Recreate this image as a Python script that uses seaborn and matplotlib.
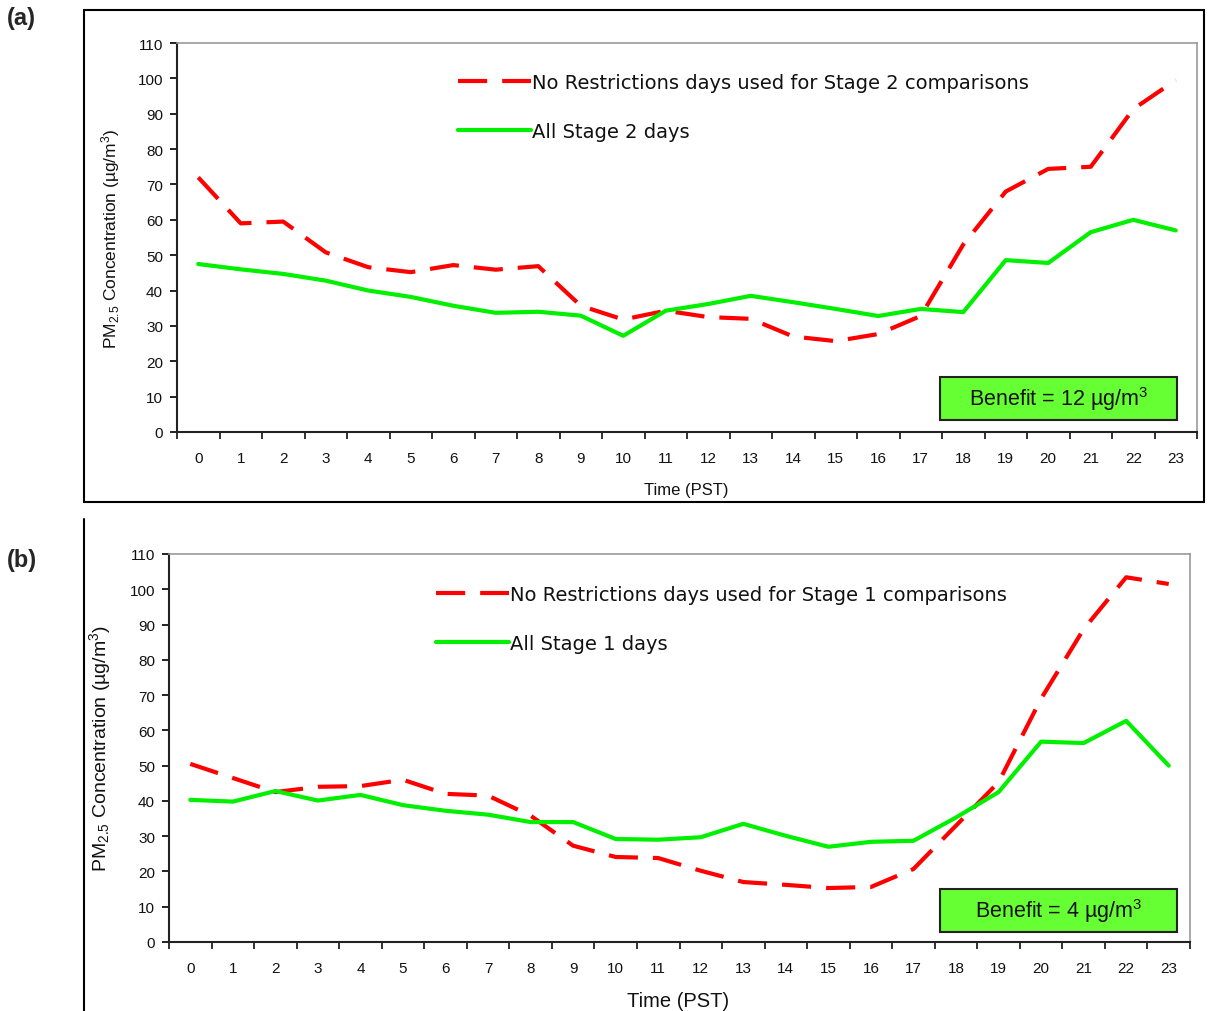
import matplotlib
matplotlib.use("Agg")
import matplotlib.pyplot as plt
from matplotlib.patches import Rectangle
from matplotlib.lines import Line2D
from matplotlib.ticker import FixedLocator, NullFormatter
import seaborn as sns
import pandas as pd

# ---------------- data ----------------
hours = list(range(24))
hour_labels = [str(h) for h in hours]

a_norestr = [72, 59, 59.5, 50.8, 46.6, 45.2, 47.2, 45.9, 46.9, 35.7, 31.8, 34.3,
             32.5, 32, 27, 25.7, 27.7, 32.8, 53, 68, 74.4, 75, 91.3, 99.5]
a_stage = [47.5, 46, 44.7, 42.8, 40, 38.2, 35.7, 33.7, 34, 32.9, 27.2, 34.3,
           36.2, 38.5, 36.7, 34.8, 32.8, 34.8, 33.9, 48.6, 47.8, 56.5, 60, 57]

b_norestr = [50.5, 46.5, 42.5, 44, 44.2, 46, 42, 41.5, 35.8, 27.3, 24.1, 23.8,
             20.2, 17, 16.2, 15.3, 15.6, 20.7, 33, 45.3, 69, 88.7, 103.4, 101.5]
b_stage = [40.3, 39.8, 42.8, 40.1, 41.7, 38.8, 37.2, 36.1, 34, 34, 29.2, 29,
           29.7, 33.5, 30.1, 27, 28.4, 28.7, 35.3, 42.5, 56.8, 56.4, 62.7, 50]

a_labels = ["No Restrictions days used for Stage 2 comparisons", "All Stage 2 days"]
b_labels = ["No Restrictions days used for Stage 1 comparisons", "All Stage 1 days"]
a_benefit = "Benefit = 12 µg/m$^3$"
b_benefit = "Benefit = 4 µg/m$^3$"
y_ticks = list(range(0, 111, 10))
ylabel = "PM$_{2.5}$ Concentration (µg/m$^3$)"
xlabel = "Time (PST)"

# ---------------- style ----------------
sns.set_style("white")
plt.rcParams["font.family"] = ["Liberation Sans", "DejaVu Sans"]
plt.rcParams["mathtext.fontset"] = "custom"
plt.rcParams["mathtext.rm"] = "Liberation Sans"
plt.rcParams["mathtext.it"] = "Liberation Sans:italic"
plt.rcParams["mathtext.bf"] = "Liberation Sans:bold"

W, H = 1208, 1012
fig = plt.figure(figsize=(W / 100, H / 100), dpi=100)
fig.patch.set_facecolor("white")


def fx(px):
    return px / W


def fy(py):
    return 1 - py / H


def make_panel(left, right, top, bottom, red, green, labels, benefit,
               leg_x, leg_y, box, ylab_size, xlab_size, tick_size, xlab_y):
    ax = fig.add_axes([fx(left), fy(bottom), fx(right - left), (bottom - top) / H])
    df = pd.DataFrame({"hour": hours, "red": red, "green": green})
    sns.lineplot(data=df, x="hour", y="red", ax=ax, color="#ff0000",
                 linewidth=3.0, label=labels[0])
    ax.lines[-1].set_dashes((7, 3.6))
    ax.lines[-1].set_dash_capstyle("butt")
    sns.lineplot(data=df, x="hour", y="green", ax=ax, color="#00f000",
                 linewidth=3.0, label=labels[1])

    ax.set_xlim(-0.5, 23.5)
    ax.set_ylim(0, 110)
    ax.set_yticks(y_ticks)
    ax.set_yticklabels([str(t) for t in y_ticks], fontsize=tick_size)
    ax.set_xticks(hours)
    ax.set_xticklabels(hour_labels, fontsize=tick_size)
    ax.xaxis.set_minor_locator(FixedLocator([h - 0.5 for h in hours] + [23.5]))
    ax.xaxis.set_minor_formatter(NullFormatter())
    ax.tick_params(axis="x", which="major", length=0, pad=14, colors="#111111")
    ax.tick_params(axis="x", which="minor", length=5, width=1.3, direction="out",
                   bottom=True, color="#222222")
    ax.tick_params(axis="y", which="major", length=5, width=1.3, direction="out",
                   left=True, pad=5, colors="#111111")

    for s in ["left", "bottom"]:
        ax.spines[s].set_color("#222222")
        ax.spines[s].set_linewidth(1.5)
    for s in ["top", "right"]:
        ax.spines[s].set_color("#9a9a9a")
        ax.spines[s].set_linewidth(1.2)

    ax.set_ylabel(ylabel, fontsize=ylab_size, color="#111111")
    ax.set_xlabel(xlabel, fontsize=xlab_size, color="#111111")
    ax.yaxis.set_label_coords((leg_x[1] - left) / (right - left), 0.5)
    ax.xaxis.set_label_coords(0.499, xlab_y)

    leg = ax.legend(loc="center left",
                    bbox_to_anchor=(fx(leg_x[0]), fy(leg_y)),
                    bbox_transform=fig.transFigure,
                    frameon=False, prop={"family": "DejaVu Sans", "size": 14},
                    handlelength=3.75, handletextpad=0.05, labelspacing=1.55,
                    borderpad=0, borderaxespad=0)
    for t in leg.get_texts():
        t.set_color("#111111")

    bx0, by0, bx1, by1 = box
    rect = Rectangle((fx(bx0), fy(by1)), fx(bx1 - bx0), (by1 - by0) / H,
                     transform=fig.transFigure, facecolor="#66ff33",
                     edgecolor="#222222", linewidth=1.5, zorder=5)
    fig.patches.append(rect)
    fig.text(fx((bx0 + bx1) / 2), fy((by0 + by1) / 2), benefit, fontsize=15.5,
             ha="center", va="center", color="#111111", zorder=6)
    return ax


ax_a = make_panel(177, 1197, 44, 433, a_norestr, a_stage, a_labels, a_benefit,
                  (458, 122), 108, (940, 378, 1177, 421), 12.5, 12, 11, -0.128)
ax_b = make_panel(169, 1190, 555, 943, b_norestr, b_stage, b_labels, b_benefit,
                  (436, 113), 620, (940, 890, 1177, 933), 14, 14.5, 11, -0.126)

# outer frames
fig.patches.append(Rectangle((fx(84), fy(503)), fx(1204 - 84), (503 - 11) / H,
                             transform=fig.transFigure, fill=False,
                             edgecolor="black", linewidth=1.5))
fig.lines.append(Line2D([fx(84), fx(84)], [fy(520), fy(1012)],
                        transform=fig.transFigure, color="black", linewidth=1.5))

fig.text(fx(7), fy(19), "(a)", fontsize=17, fontweight="bold", ha="left", va="center")
fig.text(fx(7), fy(561), "(b)", fontsize=17, fontweight="bold", ha="left", va="center")

fig.savefig("out.png", dpi=100, facecolor="white")
